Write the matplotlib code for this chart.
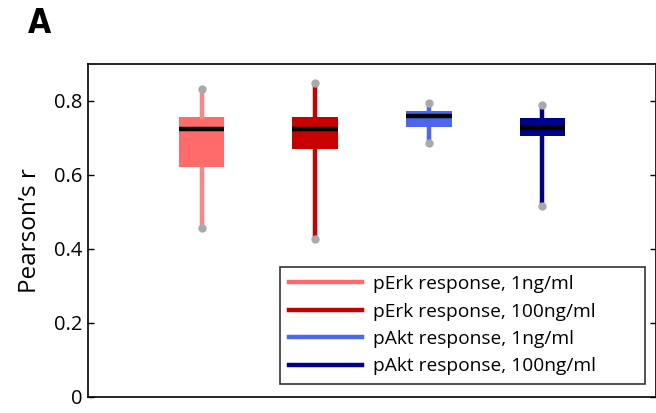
import matplotlib
matplotlib.use("Agg")
import matplotlib.pyplot as plt
from matplotlib.lines import Line2D

plt.rcParams['font.family'] = ['Open Sans', 'DejaVu Sans']

labels = ["pErk response, 1ng/ml", "pErk response, 100ng/ml",
          "pAkt response, 1ng/ml", "pAkt response, 100ng/ml"]
colors = ["#FF6B6B", "#C80000", "#4D66F0", "#00008F"]
whisker_colors = ["#FF8585", "#C80000", "#4D66F0", "#00008F"]
whislo = [0.457, 0.427, 0.686, 0.516]
q1 = [0.622, 0.670, 0.730, 0.705]
med = [0.724, 0.724, 0.759, 0.727]
q3 = [0.757, 0.757, 0.773, 0.754]
whishi = [0.832, 0.849, 0.795, 0.789]
yticks = [0, 0.2, 0.4, 0.6, 0.8]
yticklabels = ["0", "0.2", "0.4", "0.6", "0.8"]

fig = plt.figure(figsize=(6.56, 4.13), dpi=100)
ax = fig.add_axes([88/656, 16/413, (656-88)/656, (397-64)/413])

positions = list(range(1, len(labels) + 1))
for i, p in enumerate(positions):
    stats = [dict(whislo=whislo[i], q1=q1[i], med=med[i], q3=q3[i],
                  whishi=whishi[i], fliers=[])]
    ax.bxp(stats, positions=[p], widths=0.4, patch_artist=True,
           showcaps=False,
           boxprops=dict(facecolor=colors[i], edgecolor=colors[i], linewidth=0),
           whiskerprops=dict(color=whisker_colors[i], linewidth=3.2),
           medianprops=dict(color='black', linewidth=3.2, solid_capstyle='butt'))
    ax.plot([p, p], [whislo[i], whishi[i]], linestyle='none', marker='o',
            markersize=6, color='#AAAAAA', markeredgewidth=0, zorder=5)

ax.set_xlim(0, 5)
ax.set_ylim(0, 0.9)
ax.set_xticks([])
ax.set_yticks(yticks)
ax.set_yticklabels(yticklabels, fontsize=14.5)
ax.tick_params(axis='y', direction='in', right=True, length=4, width=1, pad=4)
for s in ax.spines.values():
    s.set_linewidth(1.2)
ax.set_ylabel("Pearson’s r", fontsize=17.5, labelpad=9)

handles = [Line2D([0], [0], color=c, linewidth=3.2) for c in colors]
leg = ax.legend(handles, labels, loc='lower left',
                bbox_to_anchor=((280-88)/568, 13/333, 365/568, 118/333),
                mode='expand',
                fontsize=13.8, frameon=True, fancybox=False, handlelength=3.85,
                borderpad=0.45, labelspacing=0.49, handletextpad=0.55,
                borderaxespad=0)
leg.get_frame().set_edgecolor('black')
leg.get_frame().set_linewidth(1.2)

fig.text(28/656, 1 - 33/413, "A", fontsize=24, fontweight='bold',
         family='DejaVu Sans', fontstretch='condensed')

fig.savefig("out.png", dpi=100)
